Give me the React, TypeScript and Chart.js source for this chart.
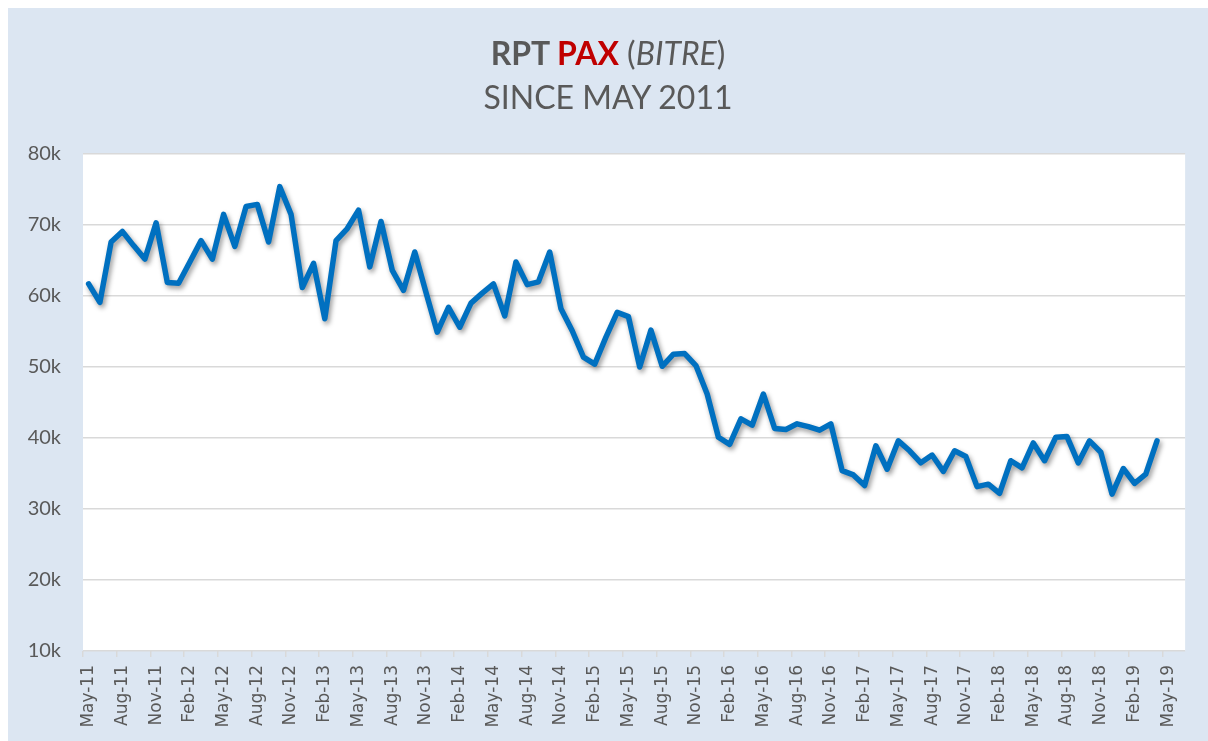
import React, { useEffect, useRef } from "react";
import { Chart, registerables } from "chart.js";

Chart.register(...registerables);

// Month categories of the date axis (data runs May-11 .. Apr-19, axis extends two more months)
const monthLabels: string[] = [
  "May-11", "Jun-11", "Jul-11", "Aug-11", "Sep-11", "Oct-11", "Nov-11", "Dec-11",
  "Jan-12", "Feb-12", "Mar-12", "Apr-12", "May-12", "Jun-12", "Jul-12", "Aug-12", "Sep-12", "Oct-12", "Nov-12", "Dec-12",
  "Jan-13", "Feb-13", "Mar-13", "Apr-13", "May-13", "Jun-13", "Jul-13", "Aug-13", "Sep-13", "Oct-13", "Nov-13", "Dec-13",
  "Jan-14", "Feb-14", "Mar-14", "Apr-14", "May-14", "Jun-14", "Jul-14", "Aug-14", "Sep-14", "Oct-14", "Nov-14", "Dec-14",
  "Jan-15", "Feb-15", "Mar-15", "Apr-15", "May-15", "Jun-15", "Jul-15", "Aug-15", "Sep-15", "Oct-15", "Nov-15", "Dec-15",
  "Jan-16", "Feb-16", "Mar-16", "Apr-16", "May-16", "Jun-16", "Jul-16", "Aug-16", "Sep-16", "Oct-16", "Nov-16", "Dec-16",
  "Jan-17", "Feb-17", "Mar-17", "Apr-17", "May-17", "Jun-17", "Jul-17", "Aug-17", "Sep-17", "Oct-17", "Nov-17", "Dec-17",
  "Jan-18", "Feb-18", "Mar-18", "Apr-18", "May-18", "Jun-18", "Jul-18", "Aug-18", "Sep-18", "Oct-18", "Nov-18", "Dec-18",
  "Jan-19", "Feb-19", "Mar-19", "Apr-19", "May-19", "Jun-19",
];

// RPT passengers per month (BITRE)
const paxValues: (number | null)[] = [
  61700, 59100, 67600, 69100, 67100, 65200, 70300, 61900,
  61800, 64800, 67800, 65200, 71500, 67000, 72600, 72900, 67600, 75400, 71500, 61200,
  64600, 56800, 67800, 69500, 72100, 64100, 70500, 63600, 60800, 66200, 60500, 54900,
  58400, 55600, 59000, 60400, 61700, 57200, 64800, 61600, 62000, 66200, 58200, 55100,
  51400, 50400, 54200, 57700, 57100, 50000, 55200, 50100, 51800, 51900, 50200, 46200,
  40100, 39100, 42700, 41800, 46200, 41350, 41200, 42000, 41600, 41100, 42000, 35400,
  34800, 33300, 38900, 35600, 39600, 38200, 36500, 37600, 35300, 38200, 37400, 33150,
  33500, 32200, 36800, 35800, 39300, 36800, 40100, 40200, 36500, 39600, 38000, 32100,
  35700, 33600, 34900, 39600, null, null,
];

const yMin = 10000;
const yMax = 80000;
const yStep = 10000;

const GRAY_TEXT = "#595959";
const GRID = "#D9D9D9";

const plotBackground = {
  id: "plotBackground",
  beforeDraw(chart: any) {
    const { ctx, chartArea: a } = chart;
    ctx.save();
    ctx.fillStyle = "#FFFFFF";
    ctx.fillRect(a.left, a.top, a.right - a.left, a.bottom - a.top);
    ctx.restore();
  },
};

const lineShadow = {
  id: "lineShadow",
  beforeDatasetDraw(chart: any) {
    const c = chart.ctx;
    c.save();
    c.shadowColor = "rgba(0,0,0,0.4)";
    c.shadowBlur = 5;
    c.shadowOffsetX = 2;
    c.shadowOffsetY = 3;
  },
  afterDatasetDraw(chart: any) {
    chart.ctx.restore();
  },
};

export default function App() {
  const canvasRef = useRef<HTMLCanvasElement | null>(null);

  useEffect(() => {
    const canvas = canvasRef.current;
    if (!canvas) return;
    const chart = new Chart(canvas, {
      type: "line",
      data: {
        labels: monthLabels,
        datasets: [
          {
            label: "RPT PAX",
            data: paxValues,
            borderColor: "#0070C0",
            borderWidth: 5.5,
            pointRadius: 0,
            pointHoverRadius: 0,
            tension: 0,
            fill: false,
            borderJoinStyle: "round",
            borderCapStyle: "round",
            spanGaps: false,
          },
        ],
      },
      options: {
        responsive: false,
        animation: false,
        events: [],
        layout: { padding: { top: 146, right: 19, left: 0, bottom: 0 } },
        plugins: {
          legend: { display: false },
          title: { display: false },
          tooltip: { enabled: false },
        },
        scales: {
          x: {
            type: "category",
            offset: true,
            afterFit: (scale: any) => {
              scale.height = 90;
            },
            border: { display: false },
            grid: {
              display: true,
              offset: true,
              drawOnChartArea: false,
              drawTicks: true,
              tickLength: 6,
              lineWidth: 1.5,
              color: (ctx: any) => (ctx.index % 3 === 0 ? GRID : "rgba(0,0,0,0)"),
              tickColor: (ctx: any) => (ctx.index % 3 === 0 ? GRID : "rgba(0,0,0,0)"),
            },
            ticks: {
              autoSkip: false,
              minRotation: 90,
              maxRotation: 90,
              padding: 8,
              color: GRAY_TEXT,
              font: { family: "'DejaVu Sans', sans-serif", size: 17 },
              callback: (_v: any, i: number) => (i % 3 === 0 ? monthLabels[i] : ""),
            },
          },
          y: {
            min: yMin,
            max: yMax,
            afterFit: (scale: any) => {
              scale.width = 75;
            },
            border: { display: false },
            grid: {
              color: GRID,
              lineWidth: 1.5,
              drawTicks: false,
            },
            ticks: {
              stepSize: yStep,
              padding: 22,
              color: GRAY_TEXT,
              font: { family: "Lato, sans-serif", size: 20 },
              callback: (v: any) => `${Number(v) / 1000}k`,
            },
          },
        },
      },
      plugins: [plotBackground, lineShadow],
    } as any);
    return () => chart.destroy();
  }, []);

  return (
    <div
      style={{
        position: "fixed",
        left: 8,
        top: 8,
        width: 1200,
        height: 733,
        background: "#DCE6F2",
        overflow: "hidden",
      }}
    >
      <canvas
        ref={canvasRef}
        width={1200}
        height={733}
        style={{ display: "block", position: "absolute", left: 0, top: 0 }}
      />
      <div
        style={{
          position: "absolute",
          left: 0,
          top: 25,
          width: 1200,
          textAlign: "center",
          fontFamily: "Lato, sans-serif",
          color: GRAY_TEXT,
          fontSize: 32,
          lineHeight: "40px",
          whiteSpace: "nowrap",
        }}
      >
        <span style={{ fontWeight: 700 }}>RPT </span>
        <span style={{ fontWeight: 700, color: "#C00000" }}>PAX</span>
        <span> (</span>
        <span style={{ fontStyle: "italic" }}>BITRE</span>
        <span>)</span>
      </div>
      <div
        style={{
          position: "absolute",
          left: 0,
          top: 69,
          width: 1200,
          textAlign: "center",
          fontFamily: "Lato, sans-serif",
          color: GRAY_TEXT,
          fontSize: 32,
          lineHeight: "40px",
          whiteSpace: "nowrap",
        }}
      >
        SINCE MAY 2011
      </div>
    </div>
  );
}
